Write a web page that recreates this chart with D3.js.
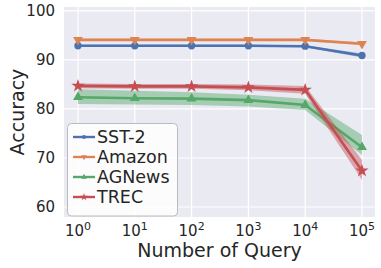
<!DOCTYPE html>
<html>
<head>
<meta charset="utf-8">
<script src="https://cdn.jsdelivr.net/npm/d3@7"></script>
<style>
  body { margin: 0; background: #fff; }
  text { font-family: "DejaVu Sans", sans-serif; fill: #262626; }
</style>
</head>
<body>
<svg id="chart" width="381" height="268"></svg>
<script>
// data
var queries = [1, 10, 100, 1000, 10000, 100000];
var seriesNames = ["SST-2", "Amazon", "AGNews", "TREC"];

var sst2Mean = [92.9, 92.9, 92.9, 92.9, 92.8, 90.9];
var sst2Low  = [92.7, 92.7, 92.7, 92.7, 92.6, 90.5];
var sst2High = [93.1, 93.1, 93.1, 93.1, 93.0, 91.3];

var amazonMean = [94.1, 94.1, 94.1, 94.1, 94.1, 93.3];
var amazonLow  = [93.9, 93.9, 93.9, 93.9, 93.9, 93.0];
var amazonHigh = [94.3, 94.3, 94.3, 94.3, 94.3, 93.6];

var agnewsMean = [82.4, 82.2, 82.1, 81.8, 80.8, 72.2];
var agnewsLow  = [81.0, 80.9, 80.8, 80.5, 79.8, 70.6];
var agnewsHigh = [84.0, 83.7, 83.4, 82.9, 82.1, 74.7];

var trecMean = [84.7, 84.6, 84.6, 84.4, 83.9, 67.4];
var trecLow  = [84.2, 84.1, 84.1, 83.8, 83.1, 65.5];
var trecHigh = [85.2, 85.1, 85.1, 85.0, 84.7, 69.6];

var yTicks = [60, 70, 80, 90, 100];
var xTickExps = [0, 1, 2, 3, 4, 5];

var colors = ["#4C72B0", "#DD8452", "#55A868", "#C44E52"];
var symbols = ["circle", "triDown", "triUp", "star"];

var margin = { top: 7, left: 64 };
var width = 311, height = 210;

var svg = d3.select("#chart");
var plot = svg.append("g")
  .attr("transform", "translate(" + margin.left + "," + margin.top + ")");

var x = d3.scaleLog()
  .domain([Math.pow(10, -0.246), Math.pow(10, 5.229)])
  .range([0, width]);
var y = d3.scaleLinear()
  .domain([57.96, 100.8])
  .range([height, 0]);

// seaborn darkgrid background
plot.append("rect")
  .attr("width", width)
  .attr("height", height)
  .attr("fill", "#EAEAF2");

plot.selectAll(".hgrid").data(yTicks).enter().append("line")
  .attr("x1", 0).attr("x2", width)
  .attr("y1", function(d) { return y(d); })
  .attr("y2", function(d) { return y(d); })
  .attr("stroke", "#fff").attr("stroke-width", 1.2);

plot.selectAll(".vgrid").data(xTickExps).enter().append("line")
  .attr("y1", 0).attr("y2", height)
  .attr("x1", function(d) { return x(Math.pow(10, d)); })
  .attr("x2", function(d) { return x(Math.pow(10, d)); })
  .attr("stroke", "#fff").attr("stroke-width", 1.2);

// tick labels
plot.selectAll(".ylab").data(yTicks).enter().append("text")
  .attr("x", -9)
  .attr("y", function(d) { return y(d); })
  .attr("dy", "0.36em")
  .attr("text-anchor", "end")
  .style("font-size", "15px")
  .text(function(d) { return d; });

var xl = plot.selectAll(".xlab").data(xTickExps).enter().append("text")
  .attr("x", function(d) { return x(Math.pow(10, d)); })
  .attr("y", height + 19)
  .attr("text-anchor", "middle")
  .style("font-size", "15px");
xl.append("tspan").text("10");
xl.append("tspan")
  .attr("dy", "-6")
  .style("font-size", "11px")
  .text(function(d) { return d; });

// axis titles
svg.append("text")
  .attr("x", margin.left + width / 2)
  .attr("y", 257)
  .attr("text-anchor", "middle")
  .style("font-size", "19px")
  .text("Number of Query");

svg.append("text")
  .attr("transform", "translate(24," + (margin.top + height / 2) + ") rotate(-90)")
  .attr("text-anchor", "middle")
  .style("font-size", "19px")
  .text("Accuracy");

// series
var series = [
  { mean: sst2Mean, low: sst2Low, high: sst2High },
  { mean: amazonMean, low: amazonLow, high: amazonHigh },
  { mean: agnewsMean, low: agnewsLow, high: agnewsHigh },
  { mean: trecMean, low: trecLow, high: trecHigh }
];

function symbolPath(kind, size) {
  if (kind === "circle") return d3.symbol(d3.symbolCircle, size)();
  if (kind === "star") return d3.symbol(d3.symbolStar, size * 1.3)();
  return d3.symbol(d3.symbolTriangle, size)();
}
function symbolRotate(kind) {
  return kind === "triDown" ? " rotate(180)" : "";
}

var area = d3.area()
  .x(function(d) { return x(d.q); })
  .y0(function(d) { return y(d.lo); })
  .y1(function(d) { return y(d.hi); });
var line = d3.line()
  .x(function(d) { return x(d.q); })
  .y(function(d) { return y(d.v); });

series.forEach(function(s, i) {
  var pts = queries.map(function(q, j) {
    return { q: q, v: s.mean[j], lo: s.low[j], hi: s.high[j] };
  });
  var g = plot.append("g");
  g.append("path")
    .attr("d", area(pts))
    .attr("fill", colors[i])
    .attr("fill-opacity", 0.45);
  g.append("path")
    .attr("d", line(pts))
    .attr("fill", "none")
    .attr("stroke", colors[i])
    .attr("stroke-width", 2.6);
  g.selectAll(".mk").data(pts).enter().append("path")
    .attr("d", symbolPath(symbols[i], 42))
    .attr("transform", function(d) {
      return "translate(" + x(d.q) + "," + y(d.v) + ")" + symbolRotate(symbols[i]);
    })
    .attr("fill", colors[i]);
});

// legend
var lg = svg.append("g").attr("transform", "translate(67,123)");
lg.append("rect")
  .attr("x", 0.5).attr("y", 0.5)
  .attr("width", 110).attr("height", 92.5)
  .attr("rx", 4)
  .attr("fill", "#fff").attr("fill-opacity", 0.85)
  .attr("stroke", "#bbb").attr("stroke-width", 1);

var items = lg.selectAll(".item").data(seriesNames).enter().append("g")
  .attr("transform", function(d, i) { return "translate(0," + (20 + i * 20) + ")"; });
items.append("line")
  .attr("x1", 6).attr("x2", 28)
  .attr("y1", -6).attr("y2", -6)
  .attr("stroke", function(d, i) { return colors[i]; })
  .attr("stroke-width", 2.4);
items.append("path")
  .attr("d", function(d, i) { return symbolPath(symbols[i], 14); })
  .attr("transform", function(d, i) { return "translate(17,-6)" + symbolRotate(symbols[i]); })
  .attr("fill", function(d, i) { return colors[i]; });
items.append("text")
  .attr("x", 30)
  .style("font-size", "17.5px")
  .text(function(d) { return d; });
</script>
</body>
</html>
